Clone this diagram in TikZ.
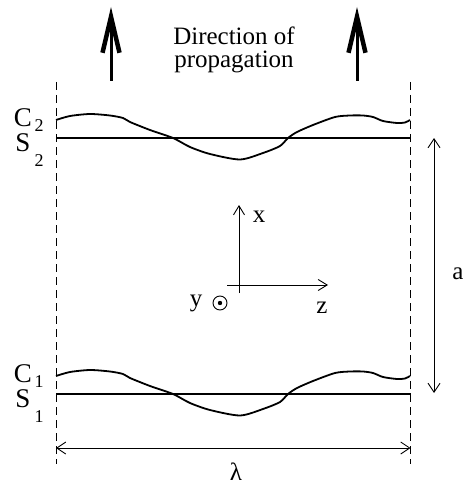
\documentclass[tikz,border=0pt]{standalone}
\usepackage{fontspec}
\setmainfont{Liberation Serif}
\usetikzlibrary{arrows.meta}
\tikzset{
  curvestyle/.style={line width=1.8pt, line join=round},
  flatline/.style={line width=1.6pt},
  dashline/.style={line width=0.9pt, dash pattern=on 8pt off 5pt},
  dimarrow/.style={line width=0.9pt, {Straight Barb[length=9pt,width=12pt]}-{Straight Barb[length=9pt,width=12pt]}},
  axisarrow/.style={line width=0.9pt, -{Straight Barb[length=9pt,width=11pt]}},
  bigarrow/.style={line width=3pt, -{Straight Barb[length=36pt,width=17pt,line width=4.5pt]}},
  lab/.style={inner sep=0pt, font=\fontsize{25}{25}\selectfont},
  biglab/.style={inner sep=0pt, font=\fontsize{27}{27}\selectfont},
  sublab/.style={inner sep=0pt, font=\fontsize{18}{18}\selectfont},
}
\begin{document}
\begin{tikzpicture}[x=1pt,y=-1pt]
\useasboundingbox (0,0) rectangle (464,484);
% dashed boundaries
\coordinate (dlt) at (56,82);  \coordinate (dlb) at (56,464);
\coordinate (drt) at (410.5,82); \coordinate (drb) at (410.5,464);
\draw[dashline] (dlt) -- (dlb);
\draw[dashline] (drt) -- (drb);
% propagation arrows
\coordinate (pa1) at (111,81); \coordinate (pa1t) at (111,7);
\coordinate (pa2) at (357,81); \coordinate (pa2t) at (357,7);
\draw[bigarrow] (pa1) -- (pa1t);
\draw[bigarrow] (pa2) -- (pa2t);
\node[inner sep=0pt, align=center, font=\fontsize{25}{22.5}\selectfont] (dir) at (234,50) {Direction of\\propagation};
% surfaces
\foreach \dy/\n in {0/2,256/1}{
  \begin{scope}[yshift=-\dy pt]
    \draw[curvestyle] plot[smooth, tension=0.45] coordinates {
      (56,120) (70,116) (90,114) (110,115.5) (123,118) (130,122) (150,130)
      (173,138) (190,147) (210,154) (240,159.5) (263,153) (280,146) (288,138)
      (297,132) (313,125) (335,117) (350,115.5) (363,115.5) (373,117) (383,121)
      (397,123) (405,122.5) (410,120)};
    \coordinate (sl\n) at (56,138); \coordinate (sr\n) at (410.5,138);
    \draw[flatline] (sl\n) -- (sr\n);
    \node[biglab] (C\n) at (23,118) {C};
    \node[sublab] (Cs\n) at (39,126) {\n};
    \node[biglab] (S\n) at (23,143) {S};
    \node[sublab] (Ss\n) at (39,161) {\n};
  \end{scope}
}
% dimension a
\coordinate (aT) at (434,138); \coordinate (aB) at (434,393);
\draw[dimarrow] (aT) -- (aB);
\node[lab, anchor=base] (alab) at (458,279) {a};
% dimension lambda
\coordinate (lamL) at (56,448); \coordinate (lamR) at (410.5,448);
\draw[dimarrow] (lamL) -- (lamR);
\node[lab, anchor=base] (lam) at (236,480) {λ};
% axes
\coordinate (xa0) at (239,293); \coordinate (xa1) at (239,205);
\coordinate (za0) at (227,285); \coordinate (za1) at (328,285);
\draw[axisarrow] (xa0) -- (xa1);
\draw[axisarrow] (za0) -- (za1);
\node[lab, anchor=base] (xlab) at (259,222) {x};
\node[lab, anchor=base] (zlab) at (322,313) {z};
\node[lab, anchor=base] (ylab) at (196,306) {y};
\node[circle, draw, line width=0.9pt, minimum size=14pt, inner sep=0pt] (ydot) at (220,303) {};
\fill (ydot.center) circle (2.2pt);
\end{tikzpicture}
\end{document}
